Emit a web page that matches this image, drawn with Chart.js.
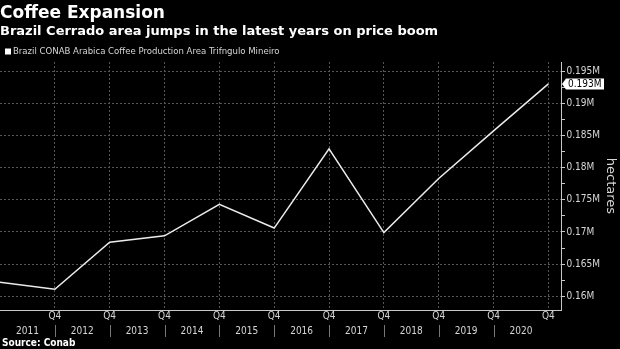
<!DOCTYPE html>
<html lang="en">
<head>
  <meta charset="UTF-8">
  <title>Coffee Expansion</title>
  <script src="https://cdn.jsdelivr.net/npm/chart.js"></script>
  <style>
    body {
      margin: 0;
      background: #000;
    }
    canvas {
      display: block;
    }
  </style>
</head>
<body>
  <canvas id="areaChart" width="620" height="349"></canvas>

  <script>
    // Q4 of each crop year, area planted in hectares
    const periods = [2010, 2011, 2012, 2013, 2014, 2015, 2016, 2017, 2018, 2019, 2020];
    const areaHa = [162200, 161100, 168400, 169400, 174300, 170600, 182900, 169900, 178300, 185700, 193000];
    const yearLabels = ['2011', '2012', '2013', '2014', '2015', '2016', '2017', '2018', '2019', '2020'];
    const yTicks = [160000, 165000, 170000, 175000, 180000, 185000, 190000, 195000];

    const condensed = '"DejaVu Sans Condensed", "DejaVu Sans", sans-serif';
    const gridColor = '#555555';
    const axisColor = '#c8c8c8';
    const textColor = '#d6d6d6';
    const yMin = 157870;
    const yMax = 196400;

    const fmtM = v => +(v / 1e6).toFixed(3) + 'M';

    // series key, year dividers, source line and last value tag
    const extras = {
      id: 'extras',
      afterDraw(chart) {
        const ctx = chart.ctx;
        ctx.save();

        // series key under the subtitle
        const ds = chart.data.datasets[0];
        ctx.fillStyle = ds.backgroundColor;
        ctx.fillRect(5, 48.5, 6, 6);
        ctx.fillStyle = textColor;
        ctx.font = '9.5px ' + condensed;
        ctx.textBaseline = 'middle';
        ctx.fillText(ds.label, 13, 52);

        const x2 = chart.scales.x2;
        ctx.strokeStyle = '#777777';
        ctx.lineWidth = 1;
        for (let i = 1; i < periods.length - 1; i++) {
          const px = Math.round(x2.getPixelForValue(periods[i])) + 0.5;
          ctx.beginPath();
          ctx.moveTo(px, x2.top + 3);
          ctx.lineTo(px, x2.bottom - 3);
          ctx.stroke();
        }
        ctx.fillStyle = '#ffffff';
        ctx.font = 'bold 10px ' + condensed;
        ctx.fillText('Source: Conab', 2, 343);

        const y = chart.scales.y;
        const last = areaHa[areaHa.length - 1];
        const py = Math.round(y.getPixelForValue(last));
        const left = chart.chartArea.right + 1;
        ctx.fillStyle = '#ffffff';
        ctx.beginPath();
        ctx.moveTo(left, py);
        ctx.lineTo(left + 4, py - 5.5);
        ctx.lineTo(left + 42, py - 5.5);
        ctx.lineTo(left + 42, py + 5.5);
        ctx.lineTo(left + 4, py + 5.5);
        ctx.closePath();
        ctx.fill();
        ctx.fillStyle = '#000000';
        ctx.font = '10px ' + condensed;
        ctx.fillText(fmtM(last), left + 6, py + 0.5);
        ctx.restore();
      }
    };

    const ctx = document.getElementById('areaChart').getContext('2d');
    new Chart(ctx, {
      type: 'line',
      data: {
        datasets: [{
          label: 'Brazil CONAB Arabica Coffee Production Area Trifngulo Mineiro',
          data: periods.map((p, i) => ({ x: p, y: areaHa[i] })),
          borderColor: '#ececec',
          backgroundColor: '#ffffff',
          borderWidth: 1.5,
          pointRadius: 0,
          tension: 0
        }]
      },
      options: {
        responsive: false,
        animation: false,
        devicePixelRatio: 1,
        layout: {
          padding: { left: 0, right: 0, top: 0, bottom: 9 }
        },
        plugins: {
          title: {
            display: true,
            text: 'Coffee Expansion',
            align: 'start',
            color: '#ffffff',
            font: { family: '"DejaVu Sans", sans-serif', size: 17, weight: 'bold', lineHeight: 1.2 },
            padding: { top: 3, bottom: 0 }
          },
          subtitle: {
            display: true,
            text: 'Brazil Cerrado area jumps in the latest years on price boom',
            align: 'start',
            color: '#ffffff',
            font: { family: '"DejaVu Sans", sans-serif', size: 13, weight: 'bold', lineHeight: 1.2 },
            padding: { top: 0, bottom: 23 }
          },
          legend: { display: false },
          tooltip: { enabled: false }
        },
        scales: {
          x: {
            type: 'linear',
            position: 'bottom',
            min: 2010,
            max: 2020.23,
            afterBuildTicks: s => {
              s.ticks = periods.slice(1).map(v => ({ value: v }));
            },
            ticks: {
              color: textColor,
              font: { family: condensed, size: 10, lineHeight: 1.2 },
              padding: 0,
              maxRotation: 0,
              autoSkip: false,
              callback: () => 'Q4'
            },
            grid: {
              color: gridColor,
              drawTicks: false
            },
            border: {
              color: axisColor,
              dash: [2, 2]
            }
          },
          x2: {
            type: 'linear',
            position: 'bottom',
            min: 2010,
            max: 2020.23,
            afterBuildTicks: s => {
              s.ticks = yearLabels.map((l, i) => ({ value: periods[i] + 0.5 }));
            },
            ticks: {
              color: textColor,
              font: { family: condensed, size: 10, lineHeight: 1.2 },
              padding: 3,
              maxRotation: 0,
              autoSkip: false,
              callback: (v, i) => yearLabels[i]
            },
            grid: { display: false, drawTicks: false },
            border: { display: false }
          },
          y: {
            type: 'linear',
            position: 'right',
            min: yMin,
            max: yMax,
            afterBuildTicks: s => {
              // major ticks plus an unlabelled mark halfway between them
              const t = [];
              yTicks.forEach(v => {
                t.push({ value: v });
                if (v + 2500 < yMax) t.push({ value: v + 2500, minor: true });
              });
              s.ticks = t;
            },
            afterFit: s => {
              s.width = 59;
            },
            ticks: {
              color: textColor,
              font: { family: condensed, size: 10, lineHeight: 1.2 },
              padding: 1.5,
              autoSkip: false,
              callback: function (v, i, ticks) {
                return ticks[i].minor ? '' : fmtM(v);
              }
            },
            grid: {
              color: c => (c.tick && c.tick.minor ? 'rgba(0,0,0,0)' : gridColor),
              tickColor: axisColor,
              tickLength: 4
            },
            border: {
              color: axisColor,
              dash: [2, 2]
            },
            title: {
              display: true,
              text: 'hectares',
              color: textColor,
              font: { family: '"DejaVu Sans", sans-serif', size: 13, lineHeight: 1.2 },
              padding: { top: 2, bottom: 0 }
            }
          }
        }
      },
      plugins: [extras]
    });
  </script>
</body>
</html>
